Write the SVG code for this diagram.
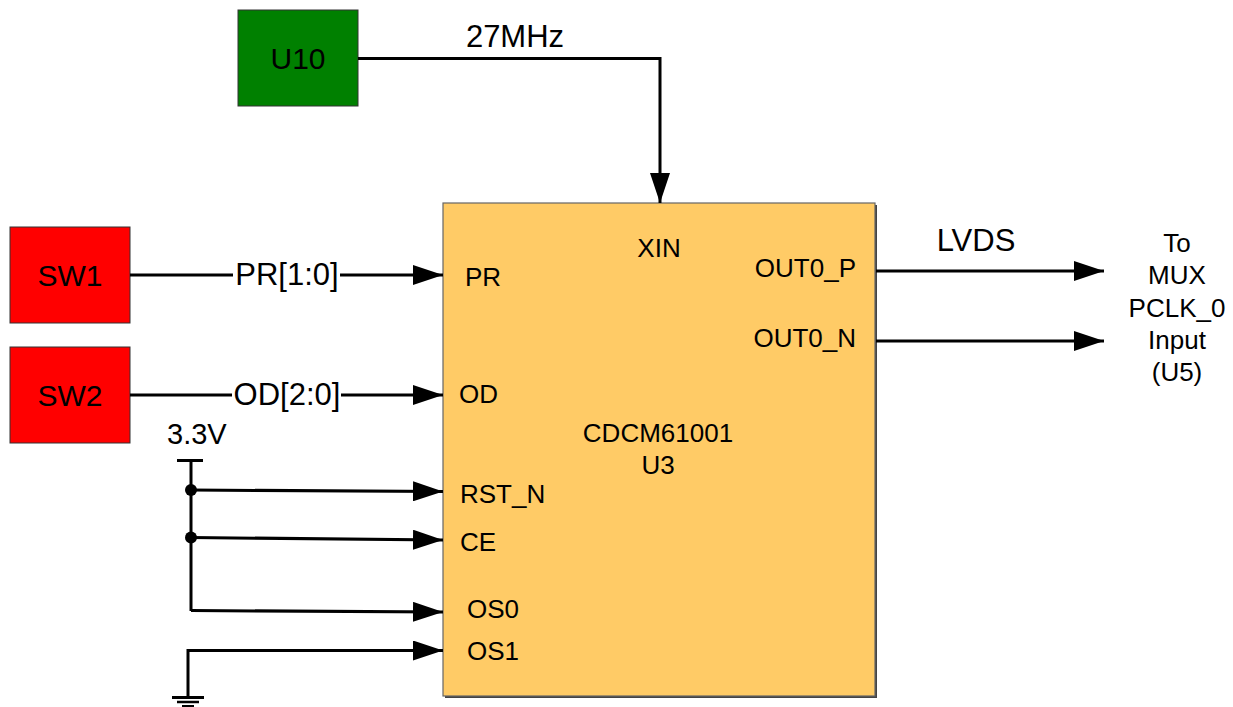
<svg xmlns="http://www.w3.org/2000/svg" width="1233" height="707" viewBox="0 0 1233 707">
<style>
text{font-family:"Liberation Sans",Arial,sans-serif;fill:#000}
.nl{font-size:30px;text-anchor:middle}
.el{font-size:31px;text-anchor:middle}
.pin{font-size:26px}
.wire{fill:none;stroke:#000;stroke-width:3}
.box{stroke:#333;stroke-width:1}
</style>
<defs>
<marker id="ah" viewBox="0 0 30 20" refX="30" refY="10" markerWidth="30" markerHeight="20" markerUnits="userSpaceOnUse" orient="auto">
<path d="M0,0 L30,10 L0,20 z" fill="#000"/>
</marker>
</defs>
<rect width="1233" height="707" fill="#fff"/>

<g id="U3">
<rect x="445" y="205" width="432" height="493" fill="#444"/>
<rect x="443" y="203" width="432" height="493" fill="#FFCB66" stroke="#666" stroke-width="1.2"/>
<text class="pin" x="659" y="257" text-anchor="middle">XIN</text>
<text class="pin" x="465" y="286">PR</text>
<text class="pin" x="459" y="403">OD</text>
<text class="pin" x="460" y="503">RST_N</text>
<text class="pin" x="460" y="551">CE</text>
<text class="pin" x="467" y="618">OS0</text>
<text class="pin" x="467" y="660">OS1</text>
<text class="pin" x="856" y="277" text-anchor="end">OUT0_P</text>
<text class="pin" x="856" y="347" text-anchor="end">OUT0_N</text>
<text class="pin" x="658" y="442" text-anchor="middle">CDCM61001</text>
<text class="pin" x="658" y="474" text-anchor="middle">U3</text>
</g>

<g id="U10">
<rect class="box" x="238" y="10" width="120" height="96" fill="#008000"/>
<text class="nl" x="298" y="69">U10</text>
</g>

<g id="SW1">
<rect class="box" x="10" y="227" width="120" height="96" fill="#FF0000"/>
<text class="nl" x="70" y="286">SW1</text>
</g>

<g id="SW2">
<rect class="box" x="10" y="347" width="120" height="96" fill="#FF0000"/>
<text class="nl" x="70" y="406">SW2</text>
</g>

<g id="VCC">
<line x1="177" y1="460.5" x2="203" y2="460.5" stroke="#000" stroke-width="3"/>
<text x="167" y="444" style="font-size:29px">3.3V</text>
</g>

<g id="GND">
<line x1="172" y1="697.5" x2="204" y2="697.5" stroke="#000" stroke-width="3"/>
<line x1="177" y1="702" x2="199" y2="702" stroke="#000" stroke-width="2.5"/>
<line x1="182" y1="706" x2="194" y2="706" stroke="#000" stroke-width="2"/>
</g>

<g id="dest">
<text class="pin" x="1177" y="252" text-anchor="middle">To</text>
<text class="pin" x="1177" y="284" text-anchor="middle">MUX</text>
<text class="pin" x="1177" y="317" text-anchor="middle">PCLK_0</text>
<text class="pin" x="1177" y="349" text-anchor="middle">Input</text>
<text class="pin" x="1177" y="381" text-anchor="middle">(U5)</text>
</g>

<g id="connectors">
<polyline class="wire" points="358,58.5 660,58.5 660,203" marker-end="url(#ah)"/>
<text class="el" x="515" y="47">27MHz</text>

<line class="wire" x1="130" y1="275" x2="443" y2="275" marker-end="url(#ah)"/>
<rect x="233" y="258" width="107" height="34" fill="#fff"/>
<text class="el" x="287" y="285">PR[1:0]</text>

<line class="wire" x1="130" y1="395" x2="443" y2="395" marker-end="url(#ah)"/>
<rect x="232" y="378" width="109" height="34" fill="#fff"/>
<text class="el" x="287" y="405">OD[2:0]</text>

<line class="wire" x1="191" y1="460" x2="191" y2="611"/>
<polyline class="wire" points="191,490 443,491.5" marker-end="url(#ah)"/>
<polyline class="wire" points="191,537.5 443,540" marker-end="url(#ah)"/>
<polyline class="wire" points="191,610.5 443,612" marker-end="url(#ah)"/>
<circle cx="191" cy="490" r="6" fill="#000"/>
<circle cx="191" cy="537.5" r="6" fill="#000"/>
<polyline class="wire" points="188,697 188,650.5 443,650.5" marker-end="url(#ah)"/>

<line class="wire" x1="876" y1="271" x2="1104" y2="271" marker-end="url(#ah)"/>
<line class="wire" x1="876" y1="341" x2="1104" y2="341" marker-end="url(#ah)"/>
<text class="el" x="976" y="251">LVDS</text>
</g>
</svg>
